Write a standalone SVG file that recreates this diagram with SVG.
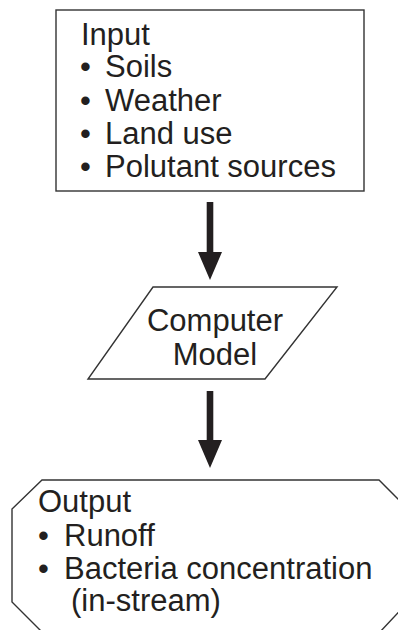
<svg xmlns="http://www.w3.org/2000/svg" width="398" height="630" viewBox="0 0 398 630">
  <style>
    .shape { fill: #ffffff; stroke: #333333; stroke-width: 1.4; }
    .txt { font-family: "Liberation Sans", Arial, sans-serif; font-size: 31px; fill: #231f20; }
    .arrow { fill: #231f20; stroke: none; }
  </style>
  <rect width="398" height="630" fill="#ffffff"/>
  <g id="connectors">
    <path class="arrow" d="M206.7,202 H213.3 V252 H222 L210,280 L198,252 H206.7 Z"/>
    <path class="arrow" d="M206.7,391 H213.3 V440 H222 L210,468 L198,440 H206.7 Z"/>
  </g>
  <g id="input">
    <rect class="shape" x="56" y="10" width="308" height="181"/>
    <text class="txt" x="81" y="45">Input</text>
    <text class="txt" x="80" y="77">•<tspan x="105">Soils</tspan></text>
    <text class="txt" x="80" y="111">•<tspan x="105">Weather</tspan></text>
    <text class="txt" x="80" y="144">•<tspan x="105">Land use</tspan></text>
    <text class="txt" x="80" y="177">•<tspan x="105">Polutant sources</tspan></text>
  </g>
  <g id="model">
    <polygon class="shape" points="153,287 337,287 265,379 88,379"/>
    <text class="txt" text-anchor="middle" font-size="30"><tspan x="215" y="331">Computer</tspan><tspan x="215" y="365">Model</tspan></text>
  </g>
  <g id="output">
    <polygon class="shape" points="42,480 379,480 410,511 410,600 379,633 43,633 12,602 12,509"/>
    <text class="txt" x="38" y="512">Output</text>
    <text class="txt" x="38" y="546">•<tspan x="64">Runoff</tspan></text>
    <text class="txt" x="38" y="579">•<tspan x="64">Bacteria concentration</tspan></text>
    <text class="txt" x="71" y="611">(in-stream)</text>
  </g>
</svg>
